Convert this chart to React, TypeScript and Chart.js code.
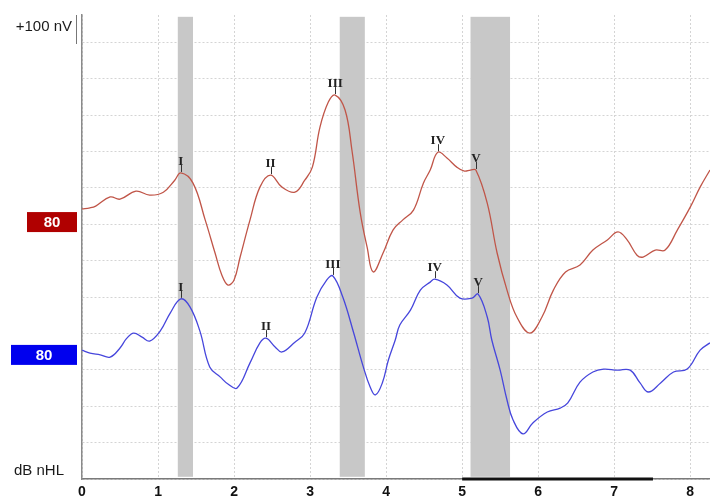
import React, { useEffect, useRef } from 'react';
import { Chart, registerables } from 'chart.js';

Chart.register(...registerables);

// time axis (ms)
const timeMin = 0;
const timeMax = 8.26;
const timeStep = 1;
// vertical scale in grid units (one dotted gridline per unit)
const ampMin = 0;
const ampMax = 12.75;

const redTimes = [0, 0.105, 0.18, 0.37, 0.5, 0.71, 0.89, 1.07, 1.22, 1.3, 1.46, 1.62, 1.75, 1.84, 1.92, 2.0, 2.08, 2.21, 2.34, 2.48, 2.63, 2.8, 2.93, 3.03, 3.13, 3.24, 3.33, 3.46, 3.55, 3.66, 3.75, 3.83, 3.96, 4.09, 4.22, 4.36, 4.49, 4.58, 4.68, 4.8, 4.93, 5.03, 5.11, 5.18, 5.33, 5.46, 5.59, 5.72, 5.89, 6.05, 6.2, 6.36, 6.55, 6.72, 6.91, 7.05, 7.17, 7.3, 7.38, 7.54, 7.67, 7.83, 8.0, 8.13, 8.26];
const redValues = [7.42, 7.45, 7.5, 7.75, 7.69, 7.91, 7.8, 7.88, 8.21, 8.41, 8.13, 7.12, 6.21, 5.6, 5.33, 5.47, 6.1, 7.12, 8.02, 8.35, 8.02, 7.88, 8.21, 8.57, 9.67, 10.36, 10.55, 10.14, 9.04, 7.31, 6.37, 5.69, 6.21, 6.84, 7.12, 7.39, 8.13, 8.49, 8.98, 8.82, 8.57, 8.46, 8.49, 8.49, 7.58, 6.21, 5.19, 4.45, 4.01, 4.45, 5.19, 5.69, 5.88, 6.29, 6.57, 6.79, 6.57, 6.15, 6.1, 6.29, 6.29, 6.84, 7.47, 8.02, 8.49];

const blueTimes = [0, 0.105, 0.24, 0.37, 0.5, 0.59, 0.68, 0.79, 0.89, 1.03, 1.16, 1.3, 1.42, 1.55, 1.68, 1.82, 1.92, 2.04, 2.21, 2.34, 2.42, 2.54, 2.63, 2.8, 2.93, 3.09, 3.22, 3.3, 3.43, 3.57, 3.7, 3.79, 3.86, 3.95, 4.03, 4.12, 4.18, 4.32, 4.45, 4.58, 4.64, 4.8, 4.97, 5.13, 5.21, 5.33, 5.39, 5.5, 5.59, 5.67, 5.8, 5.93, 6.12, 6.29, 6.39, 6.55, 6.72, 6.86, 7.04, 7.21, 7.34, 7.45, 7.61, 7.78, 7.96, 8.13, 8.26];
const blueValues = [3.54, 3.46, 3.41, 3.35, 3.6, 3.87, 4.01, 3.9, 3.79, 4.07, 4.56, 4.95, 4.73, 4.07, 3.08, 2.8, 2.61, 2.5, 3.19, 3.74, 3.87, 3.63, 3.49, 3.76, 4.01, 5.0, 5.47, 5.58, 5.0, 4.04, 3.08, 2.53, 2.31, 2.64, 3.27, 3.82, 4.23, 4.64, 5.19, 5.41, 5.49, 5.33, 4.97, 4.97, 5.08, 4.45, 3.82, 2.99, 2.17, 1.62, 1.24, 1.54, 1.84, 1.95, 2.09, 2.66, 2.94, 3.02, 2.99, 2.99, 2.64, 2.39, 2.64, 2.94, 3.02, 3.54, 3.74];

const bandStarts = [1.26, 3.39, 5.11];
const bandEnds = [1.46, 3.72, 5.63];
const bandTop = 12.7;
const bandBottom = 0.06;

const peakNames = ['I', 'II', 'III', 'IV', 'V'];
const redPeakTimes = [1.3, 2.48, 3.33, 4.68, 5.18];
const redPeakValues = [8.41, 8.35, 10.55, 8.98, 8.49];
const bluePeakTimes = [1.3, 2.42, 3.3, 4.64, 5.21];
const bluePeakValues = [4.95, 3.87, 5.58, 5.49, 5.08];

const levelTexts = ['80', '80'];
const levelValues = [7.06, 3.41];
const windowStart = 5.0;
const windowEnd = 7.51;
const scaleText = '+100 nV';
const unitText = 'dB nHL';

const RED = '#c05548';
const BLUE = '#4646dc';

const overlay = {
  id: 'overlay',
  beforeDatasetsDraw(chart: any) {
    const { ctx, scales } = chart;
    const x = scales.x;
    const y = scales.y;
    ctx.save();
    ctx.fillStyle = '#c8c8c8';
    const yt = y.getPixelForValue(bandTop);
    const yb = y.getPixelForValue(bandBottom);
    bandStarts.forEach((s, i) => {
      const x1 = x.getPixelForValue(s);
      const x2 = x.getPixelForValue(bandEnds[i]);
      ctx.fillRect(x1, yt, x2 - x1, yb - yt);
    });
    ctx.restore();
  },
  afterDraw(chart: any) {
    const { ctx, scales, chartArea } = chart;
    const x = scales.x;
    const y = scales.y;
    ctx.save();
    // analysis window bar
    ctx.strokeStyle = '#111';
    ctx.lineWidth = 3;
    const by = y.getPixelForValue(0);
    ctx.beginPath();
    ctx.moveTo(x.getPixelForValue(windowStart), by);
    ctx.lineTo(x.getPixelForValue(windowEnd), by);
    ctx.stroke();

    // scale bar
    ctx.strokeStyle = '#777';
    ctx.lineWidth = 1;
    ctx.beginPath();
    ctx.moveTo(chartArea.left - 5.5, chartArea.top);
    ctx.lineTo(chartArea.left - 5.5, chartArea.top + 29);
    ctx.stroke();

    ctx.fillStyle = '#1a1a1a';
    ctx.font = '15px "Liberation Sans", Arial, sans-serif';
    ctx.textBaseline = 'middle';
    ctx.textAlign = 'right';
    ctx.fillText(scaleText, chartArea.left - 10, chartArea.top + 12);
    ctx.textAlign = 'left';
    ctx.fillText(unitText, 14, chartArea.bottom - 8);

    // level boxes
    const boxes = [
      { color: '#b00000', left: 27 },
      { color: '#0000ee', left: 11 },
    ];
    boxes.forEach((b, i) => {
      const cy = y.getPixelForValue(levelValues[i]);
      const right = chartArea.left - 5;
      ctx.fillStyle = b.color;
      ctx.fillRect(b.left, cy - 10, right - b.left, 20);
      ctx.fillStyle = '#ffffff';
      ctx.textAlign = 'center';
      ctx.font = 'bold 15px "Liberation Sans", Arial, sans-serif';
      ctx.fillText(levelTexts[i], (b.left + right) / 2, cy + 1);
    });

    // peak labels
    const drawPeaks = (times: number[], values: number[]) => {
      times.forEach((t, i) => {
        const px = x.getPixelForValue(t);
        const py = y.getPixelForValue(values[i]);
        ctx.strokeStyle = '#333';
        ctx.lineWidth = 1;
        ctx.beginPath();
        ctx.moveTo(Math.round(px) + 0.5, py - 8);
        ctx.lineTo(Math.round(px) + 0.5, py - 1);
        ctx.stroke();
        ctx.fillStyle = '#222';
        ctx.font = 'bold 13px "Liberation Serif", "Times New Roman", serif';
        ctx.textAlign = 'center';
        ctx.textBaseline = 'alphabetic';
        ctx.fillText(peakNames[i], px, py - 8);
      });
    };
    drawPeaks(redPeakTimes, redPeakValues);
    drawPeaks(bluePeakTimes, bluePeakValues);
    ctx.restore();
  },
};

export default function App() {
  const ref = useRef<HTMLCanvasElement | null>(null);
  useEffect(() => {
    document.body.style.margin = '0';
    const canvas = ref.current;
    if (!canvas) return;
    const chart = new Chart(canvas, {
      type: 'line',
      data: {
        datasets: [
          {
            data: redTimes.map((t, i) => ({ x: t, y: redValues[i] })),
            borderColor: RED,
            borderWidth: 1.3,
            pointRadius: 0,
            tension: 0.4,
            fill: false,
          },
          {
            data: blueTimes.map((t, i) => ({ x: t, y: blueValues[i] })),
            borderColor: BLUE,
            borderWidth: 1.3,
            pointRadius: 0,
            tension: 0.4,
            fill: false,
          },
        ],
      },
      options: {
        responsive: false,
        animation: false,
        layout: { padding: { left: 0, right: 0, top: 15, bottom: 0 } },
        plugins: { legend: { display: false }, tooltip: { enabled: false } },
        scales: {
          x: {
            type: 'linear',
            min: timeMin,
            max: timeMax,
            afterFit: (s: any) => {
              s.height = 19;
            },
            ticks: {
              stepSize: timeStep,
              includeBounds: false,
              autoSkip: false,
              maxRotation: 0,
              padding: 5,
              color: '#111',
              font: { family: '"Liberation Sans", Arial, sans-serif', size: 14, weight: 'bold' },
              callback: (v: any) => (Number.isInteger(v) ? String(v) : ''),
            },
            grid: { color: '#d4d4d4', drawTicks: false, lineWidth: 1 },
            border: { color: '#7a7a7a', width: 1.5, dash: [2, 2] },
          },
          y: {
            type: 'linear',
            min: ampMin,
            max: ampMax,
            afterFit: (s: any) => {
              s.width = 82;
            },
            ticks: { stepSize: 1, includeBounds: false, display: false },
            grid: { color: '#d4d4d4', drawTicks: false, lineWidth: 1 },
            border: { color: '#8a8a8a', width: 1.5, dash: [2, 2] },
          },
        },
      },
      plugins: [overlay],
    } as any);
    return () => chart.destroy();
  }, []);
  return (
    <div style={{ width: 710, height: 498 }}>
      <canvas ref={ref} width={710} height={498} style={{ display: 'block' }} />
    </div>
  );
}
